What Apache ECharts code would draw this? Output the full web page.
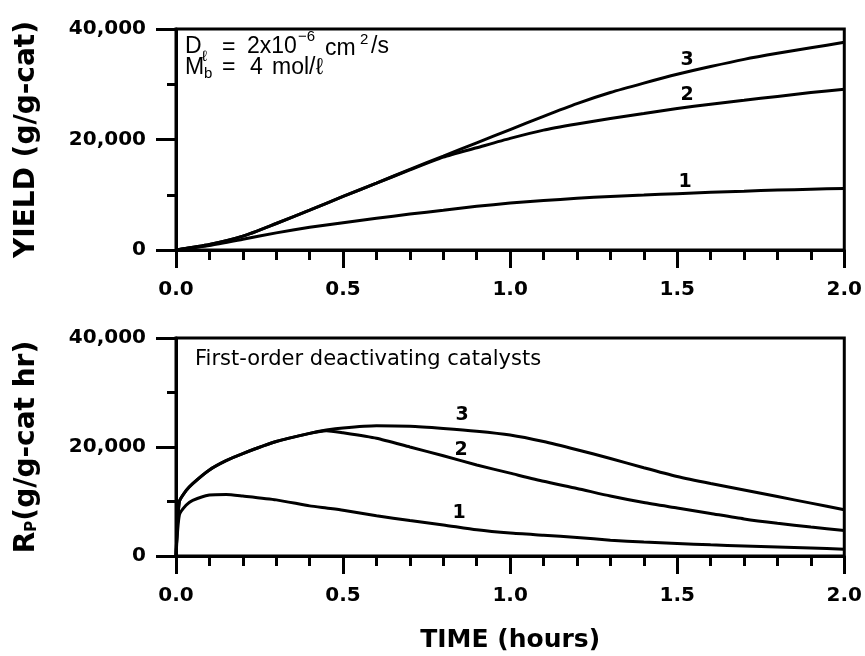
<!DOCTYPE html>
<html>
<head>
<meta charset="utf-8">
<script src="https://cdn.jsdelivr.net/npm/echarts@6/dist/echarts.min.js"></script>
<style>
  html, body { margin: 0; background: #fff; }
  #chart { width: 865px; height: 656px; }
</style>
</head>
<body>
<div id="chart"></div>
<script>
// time grid for the yield curves (hours)
const times = [0, 0.1, 0.2, 0.3, 0.4, 0.5, 0.6, 0.7, 0.8, 0.9, 1.0,
               1.1, 1.2, 1.3, 1.4, 1.5, 1.6, 1.7, 1.8, 1.9, 2.0];
const yield1 = [0, 800, 1930, 3100, 4100, 4950, 5750, 6500, 7200, 7900, 8500,
                8950, 9350, 9700, 9950, 10200, 10450, 10650, 10850, 11000, 11150];
const yield2 = [0, 1000, 2500, 4800, 7200, 9700, 12100, 14500, 16800, 18500, 20200,
                21700, 22800, 23800, 24700, 25600, 26400, 27100, 27800, 28500, 29100];
const yield3 = [0, 1000, 2500, 4800, 7200, 9700, 12100, 14600, 17000, 19400, 21800,
                24200, 26500, 28500, 30200, 31800, 33200, 34500, 35600, 36600, 37600];

// time grid for the rate curves (finer near zero)
const rateTimes = [0, 0.01, 0.03, 0.05, 0.1, 0.15, 0.2, 0.3, 0.4, 0.45, 0.5, 0.6, 0.7,
                   0.8, 0.9, 1.0, 1.1, 1.2, 1.3, 1.4, 1.5, 1.6, 1.7, 1.8, 1.9, 2.0];
const rate1 = [0, 7500, 9300, 10200, 11200, 11300, 11000, 10300, 9200, 8800, 8400, 7400, 6500,
               5700, 4800, 4200, 3800, 3400, 2900, 2550, 2300, 2050, 1850, 1650, 1450, 1250];
const rate2 = [0, 10000, 12000, 13300, 15800, 17500, 18800, 21000, 22500, 23000, 22600, 21600, 20000,
               18400, 16700, 15200, 13700, 12400, 11000, 9800, 8800, 7800, 6800, 6000, 5300, 4700];
const rate3 = [0, 10000, 12000, 13300, 15800, 17500, 18800, 21000, 22500, 23100, 23500, 23900, 23800,
               23400, 22900, 22200, 21000, 19500, 17900, 16200, 14600, 13300, 12100, 10900, 9700, 8500];

const curveNames = ['1', '2', '3'];

function pairs(xs, ys) {
  return xs.map((x, i) => [x, ys[i]]);
}
function commas(v) {
  return String(v).replace(/\B(?=(\d{3})+(?!\d))/g, ',');
}

const chart = echarts.init(document.getElementById('chart'), null, { renderer: 'canvas' });

const tickFont = { color: '#000', fontFamily: 'DejaVu Sans', fontWeight: 'bold', fontSize: 20 };
const nameFont = { color: '#000', fontFamily: 'DejaVu Sans', fontWeight: 'bold', fontSize: 28 };

function xAxisFor(idx, withName) {
  return {
    type: 'value', gridIndex: idx, min: 0, max: 2, interval: 0.5,
    axisLine: { lineStyle: { color: '#000', width: 3 } },
    axisTick: { length: 18, lineStyle: { color: '#000', width: 3 } },
    minorTick: { show: true, splitNumber: 5, length: 10, lineStyle: { color: '#000', width: 3 } },
    splitLine: { show: false },
    axisLabel: Object.assign({ margin: 30, formatter: v => v.toFixed(1) }, tickFont),
    name: withName ? 'TIME (hours)' : '',
    nameLocation: 'middle',
    nameGap: 72,
    nameTextStyle: Object.assign({}, nameFont, { fontSize: 25 })
  };
}
function yAxisFor(idx, name, rich) {
  return {
    type: 'value', gridIndex: idx, min: 0, max: 40000, interval: 20000,
    axisLine: { lineStyle: { color: '#000', width: 3 } },
    axisTick: { length: 20, lineStyle: { color: '#000', width: 3 } },
    minorTick: { show: true, splitNumber: 2, length: 9, lineStyle: { color: '#000', width: 3 } },
    splitLine: { show: false },
    axisLabel: Object.assign({ margin: 30, formatter: commas }, tickFont),
    name: name,
    nameLocation: 'middle',
    nameRotate: 90,
    nameGap: 135,
    nameTextStyle: Object.assign({ rich: rich || {} }, nameFont)
  };
}

function curve(idx, data) {
  return {
    type: 'line', xAxisIndex: idx, yAxisIndex: idx, data: data,
    showSymbol: false, smooth: 0.2, silent: true,
    lineStyle: { color: '#000', width: 3 }
  };
}

const labelFont = 'bold 19px "DejaVu Sans"';
const annoFont = '23px "Liberation Sans"';
const smallFont = '15px "Liberation Sans"';

function txt(x, y, text, font, align) {
  return { type: 'text', x: x, y: y, silent: true,
    style: { text: text, font: font, fill: '#000', align: align || 'left', verticalAlign: 'middle' } };
}

const option = {
  animation: false,
  backgroundColor: '#fff',
  grid: [
    { left: 176, right: 19, top: 29, height: 221, show: true, borderColor: '#000', borderWidth: 3 },
    { left: 176, right: 19, top: 338, height: 218, show: true, borderColor: '#000', borderWidth: 3 }
  ],
  xAxis: [xAxisFor(0, false), xAxisFor(1, true)],
  yAxis: [
    yAxisFor(0, 'YIELD (g/g-cat)'),
    yAxisFor(1, 'R{sub|P}(g/g-cat hr)', {
      sub: { fontFamily: 'DejaVu Sans', fontWeight: 'bold', fontSize: 15, padding: [10, 0, 0, 0] }
    })
  ],
  series: [
    curve(0, pairs(times, yield1)),
    curve(0, pairs(times, yield2)),
    curve(0, pairs(times, yield3)),
    curve(1, pairs(rateTimes, rate1)),
    curve(1, pairs(rateTimes, rate2)),
    curve(1, pairs(rateTimes, rate3))
  ],
  graphic: [
    // top panel parameters
    txt(185, 47, 'D', annoFont),
    txt(202, 57, 'ℓ', smallFont),
    txt(222, 48, '=', annoFont),
    txt(247, 47, '2x10', annoFont),
    txt(298, 37, '−6', smallFont),
    txt(325, 49, 'cm', annoFont),
    txt(360, 40, '2', smallFont),
    txt(371, 47, '/s', annoFont),
    txt(185, 68, 'M', annoFont),
    txt(204, 74, 'b', smallFont),
    txt(222, 68, '=', annoFont),
    txt(250, 68, '4', annoFont),
    txt(272, 68, 'mol/ℓ', annoFont),
    // bottom panel caption
    txt(195, 360, 'First-order deactivating catalysts', '21px "DejaVu Sans"'),
    // curve numbers
    txt(687, 60, curveNames[2], labelFont, 'center'),
    txt(687, 95, curveNames[1], labelFont, 'center'),
    txt(685, 182, curveNames[0], labelFont, 'center'),
    txt(462, 415, curveNames[2], labelFont, 'center'),
    txt(461, 450, curveNames[1], labelFont, 'center'),
    txt(459, 513, curveNames[0], labelFont, 'center')
  ]
};

chart.setOption(option);
window.addEventListener('resize', () => chart.resize());
</script>
</body>
</html>
